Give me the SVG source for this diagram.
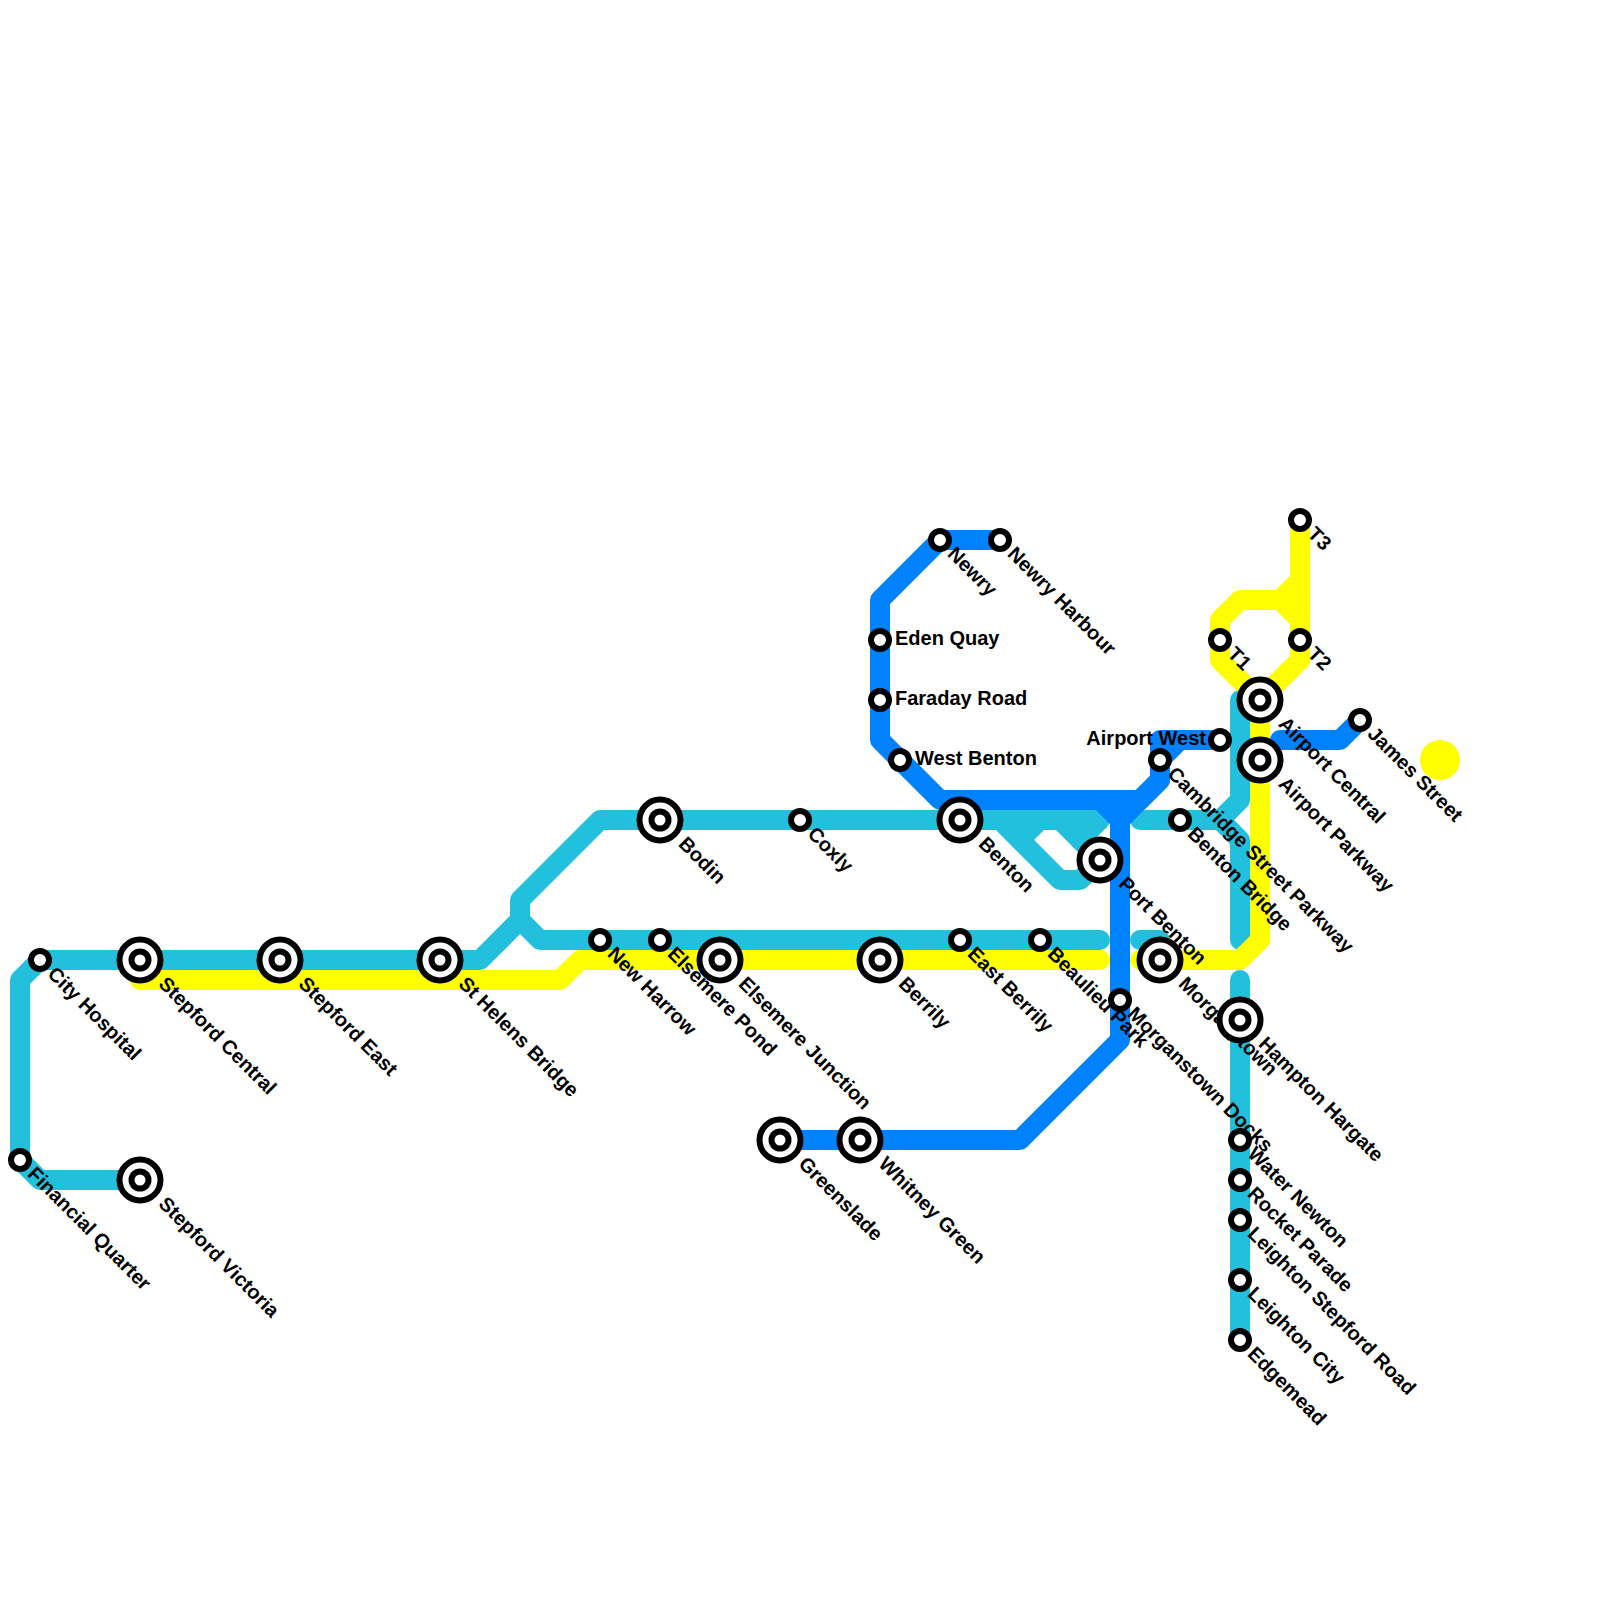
<svg xmlns="http://www.w3.org/2000/svg" width="1600" height="1600" viewBox="0 0 1600 1600">
<style>
.l{fill:none;stroke-width:20;stroke-linecap:round;stroke-linejoin:round}
.c{stroke:#23c0dd}.y{stroke:#ffff00}.b{stroke:#0082ff}
.o{fill:#fff;stroke:#000;stroke-width:6}
text{font-family:"Liberation Sans",Arial,sans-serif;font-weight:700;font-size:20px;fill:#000}
</style>
<defs>
<g id="s"><circle class="o" r="9"/></g>
<g id="i"><circle class="o" r="20.5"/><circle class="o" r="8.5"/></g>
</defs>
<rect width="1600" height="1600" fill="#fff"/>
<g id="connectors">
<path class="l c" d="M140 1180H40L20 1160V980L40 960H480L520 920V900L600 820H1100L1080 840"/>
<path class="l c" d="M520 920L540 940H1100"/>
<path class="l c" d="M1000 820L1060 880H1080L1100 860"/>
<path class="l c" d="M1020 840L1040 820"/>
<path class="l c" d="M1060 820L1100 860"/>
<path class="l c" d="M1140 820H1220L1240 840V940"/>
<path class="l c" d="M1220 820L1240 800V700"/>
<path class="l c" d="M1140 940H1160"/>
<path class="l c" d="M1240 980V1340"/>
<path class="l y" d="M140 980H560L580 960H1100"/>
<path class="l y" d="M1140 960H1240L1260 940V700L1220 660V620L1240 600H1280L1300 620V660L1260 700"/>
<path class="l y" d="M1280 600L1300 580M1300 520V660"/>
<path class="l y" d="M1440 760h.01" style="stroke-width:40"/>
<path class="l b" d="M1000 540H940L880 600V740L940 800H1140L1160 780V740H1220"/>
<path class="l b" d="M1160 760L1180 740"/>
<path class="l b" d="M1100 800L1120 820V1040L1020 1140H780"/>
<path class="l b" d="M1120 820L1160 780"/>
<path class="l b" d="M1360 720L1340 740H1280"/>
</g>
<g id="city-hospital"><text transform="translate(46.5 975) rotate(45)">City Hospital</text><use href="#s" x="40" y="960"/></g>
<g id="financial-quarter"><text transform="translate(26.5 1175) rotate(45)">Financial Quarter</text><use href="#s" x="20" y="1160"/></g>
<g id="stepford-central"><text transform="translate(157.5 985) rotate(45)">Stepford Central</text><use href="#i" x="140" y="960"/></g>
<g id="stepford-victoria"><text transform="translate(157.5 1205) rotate(45)">Stepford Victoria</text><use href="#i" x="140" y="1180"/></g>
<g id="stepford-east"><text transform="translate(297.5 985) rotate(45)">Stepford East</text><use href="#i" x="280" y="960"/></g>
<g id="st-helens-bridge"><text transform="translate(457.5 985) rotate(45)">St Helens Bridge</text><use href="#i" x="440" y="960"/></g>
<g id="new-harrow"><text transform="translate(606.5 955) rotate(45)">New Harrow</text><use href="#s" x="600" y="940"/></g>
<g id="elsemere-pond"><text transform="translate(666.5 955) rotate(45)">Elsemere Pond</text><use href="#s" x="660" y="940"/></g>
<g id="elsemere-junction"><text transform="translate(737.5 985) rotate(45)">Elsemere Junction</text><use href="#i" x="720" y="960"/></g>
<g id="bodin"><text transform="translate(677.5 845) rotate(45)">Bodin</text><use href="#i" x="660" y="820"/></g>
<g id="coxly"><text transform="translate(806.5 835) rotate(45)">Coxly</text><use href="#s" x="800" y="820"/></g>
<g id="greenslade"><text transform="translate(797.5 1165) rotate(45)">Greenslade</text><use href="#i" x="780" y="1140"/></g>
<g id="whitney-green"><text transform="translate(877.5 1165) rotate(45)">Whitney Green</text><use href="#i" x="860" y="1140"/></g>
<g id="berrily"><text transform="translate(897.5 985) rotate(45)">Berrily</text><use href="#i" x="880" y="960"/></g>
<g id="east-berrily"><text transform="translate(966.5 955) rotate(45)">East Berrily</text><use href="#s" x="960" y="940"/></g>
<g id="beaulieu-park"><text transform="translate(1046.5 955) rotate(45)">Beaulieu Park</text><use href="#s" x="1040" y="940"/></g>
<g id="benton"><text transform="translate(977.5 845) rotate(45)">Benton</text><use href="#i" x="960" y="820"/></g>
<g id="newry"><text transform="translate(946.5 555) rotate(45)">Newry</text><use href="#s" x="940" y="540"/></g>
<g id="newry-harbour"><text transform="translate(1006.5 555) rotate(45)">Newry Harbour</text><use href="#s" x="1000" y="540"/></g>
<g id="eden-quay"><text x="895" y="645">Eden Quay</text><use href="#s" x="880" y="640"/></g>
<g id="faraday-road"><text x="895" y="705">Faraday Road</text><use href="#s" x="880" y="700"/></g>
<g id="west-benton"><text x="915" y="765">West Benton</text><use href="#s" x="900" y="760"/></g>
<g id="port-benton"><text transform="translate(1117.5 885) rotate(45)">Port Benton</text><use href="#i" x="1100" y="860"/></g>
<g id="morganstown"><text transform="translate(1177.5 985) rotate(45)">Morganstown</text><use href="#i" x="1160" y="960"/></g>
<g id="morganstown-docks"><text transform="translate(1126.5 1015) rotate(45)">Morganstown Docks</text><use href="#s" x="1120" y="1000"/></g>
<g id="benton-bridge"><text transform="translate(1186.5 835) rotate(45)">Benton Bridge</text><use href="#s" x="1180" y="820"/></g>
<g id="cambridge-street-parkway"><text transform="translate(1166.5 775) rotate(45)">Cambridge Street Parkway</text><use href="#s" x="1160" y="760"/></g>
<g id="airport-west"><text x="1206" y="745" text-anchor="end">Airport West</text><use href="#s" x="1220" y="740"/></g>
<g id="t1"><text transform="translate(1226.5 655) rotate(45)">T1</text><use href="#s" x="1220" y="640"/></g>
<g id="t2"><text transform="translate(1306.5 655) rotate(45)">T2</text><use href="#s" x="1300" y="640"/></g>
<g id="t3"><text transform="translate(1306.5 535) rotate(45)">T3</text><use href="#s" x="1300" y="520"/></g>
<g id="airport-central"><text transform="translate(1277.5 725) rotate(45)">Airport Central</text><use href="#i" x="1260" y="700"/></g>
<g id="airport-parkway"><text transform="translate(1277.5 785) rotate(45)">Airport Parkway</text><use href="#i" x="1260" y="760"/></g>
<g id="james-street"><text transform="translate(1366.5 735) rotate(45)">James Street</text><use href="#s" x="1360" y="720"/></g>
<g id="hampton-hargate"><text transform="translate(1257.5 1045) rotate(45)">Hampton Hargate</text><use href="#i" x="1240" y="1020"/></g>
<g id="water-newton"><text transform="translate(1246.5 1155) rotate(45)">Water Newton</text><use href="#s" x="1240" y="1140"/></g>
<g id="rocket-parade"><text transform="translate(1246.5 1195) rotate(45)">Rocket Parade</text><use href="#s" x="1240" y="1180"/></g>
<g id="leighton-stepford-road"><text transform="translate(1246.5 1235) rotate(45)">Leighton Stepford Road</text><use href="#s" x="1240" y="1220"/></g>
<g id="leighton-city"><text transform="translate(1246.5 1295) rotate(45)">Leighton City</text><use href="#s" x="1240" y="1280"/></g>
<g id="edgemead"><text transform="translate(1246.5 1355) rotate(45)">Edgemead</text><use href="#s" x="1240" y="1340"/></g>
</svg>
